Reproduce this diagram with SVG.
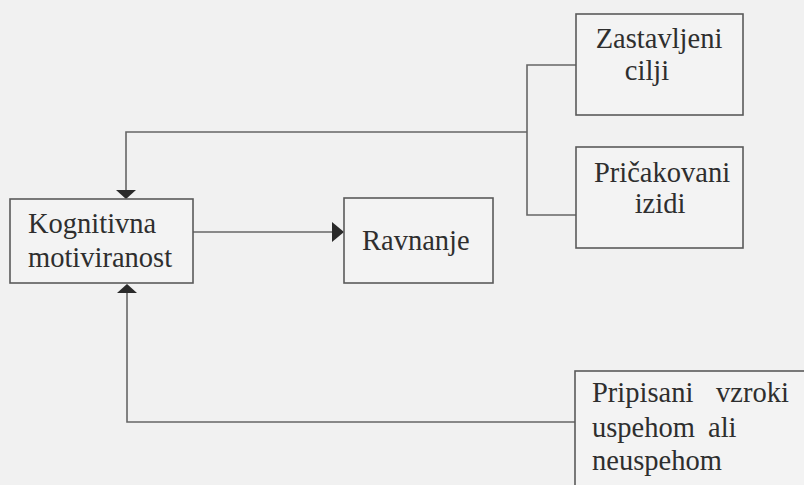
<svg xmlns="http://www.w3.org/2000/svg" width="804" height="485" viewBox="0 0 804 485">
<style>
.box{fill:#f3f3f3;stroke:#5a5a5a;stroke-width:1.6}
.lbl{font-family:'Liberation Serif','Times New Roman','DejaVu Serif',serif;font-size:28.5px;fill:#2e2e2e}
.c{text-anchor:middle}
.ln{fill:none;stroke:#666;stroke-width:1.6}
.ah{fill:#2a2a2a}
</style>
<rect x="0" y="0" width="804" height="485" fill="#f1f1f1"/>
<g id="connectors">
<polyline class="ln" points="576,65 527,65 527,215 576,215"/>
<polyline class="ln" points="527,132 126,132 126,190"/>
<polygon class="ah" points="116,190 136,190 126,199"/>
<line class="ln" x1="193" y1="232" x2="333" y2="232"/>
<polygon class="ah" points="332,222 332,242 344,232"/>
<polyline class="ln" points="575,422 127,422 127,293"/>
<polygon class="ah" points="117,293 137,293 127,284"/>
</g>
<g id="kognitivna">
<rect class="box" x="10" y="199" width="183" height="84"/>
<text class="lbl" x="28" y="233">Kognitivna</text>
<text class="lbl" x="28" y="267">motiviranost</text>
</g>
<g id="ravnanje">
<rect class="box" x="344" y="198" width="149" height="85"/>
<text class="lbl" x="362" y="250">Ravnanje</text>
</g>
<g id="zastavljeni">
<rect class="box" x="576" y="14" width="167" height="101"/>
<text class="lbl c" x="659" y="48">Zastavljeni</text>
<text class="lbl c" x="647" y="80">cilji</text>
</g>
<g id="pricakovani">
<rect class="box" x="576" y="147" width="167" height="101"/>
<text class="lbl c" x="662" y="182">Pričakovani</text>
<text class="lbl c" x="660" y="213">izidi</text>
</g>
<g id="pripisani">
<rect class="box" x="575" y="371" width="240" height="130"/>
<text class="lbl" x="592" y="402">Pripisani</text>
<text class="lbl" x="716" y="402">vzroki</text>
<text class="lbl" x="592" y="437">uspehom</text>
<text class="lbl" x="708" y="437">ali</text>
<text class="lbl" x="592" y="470">neuspehom</text>
</g>
</svg>
